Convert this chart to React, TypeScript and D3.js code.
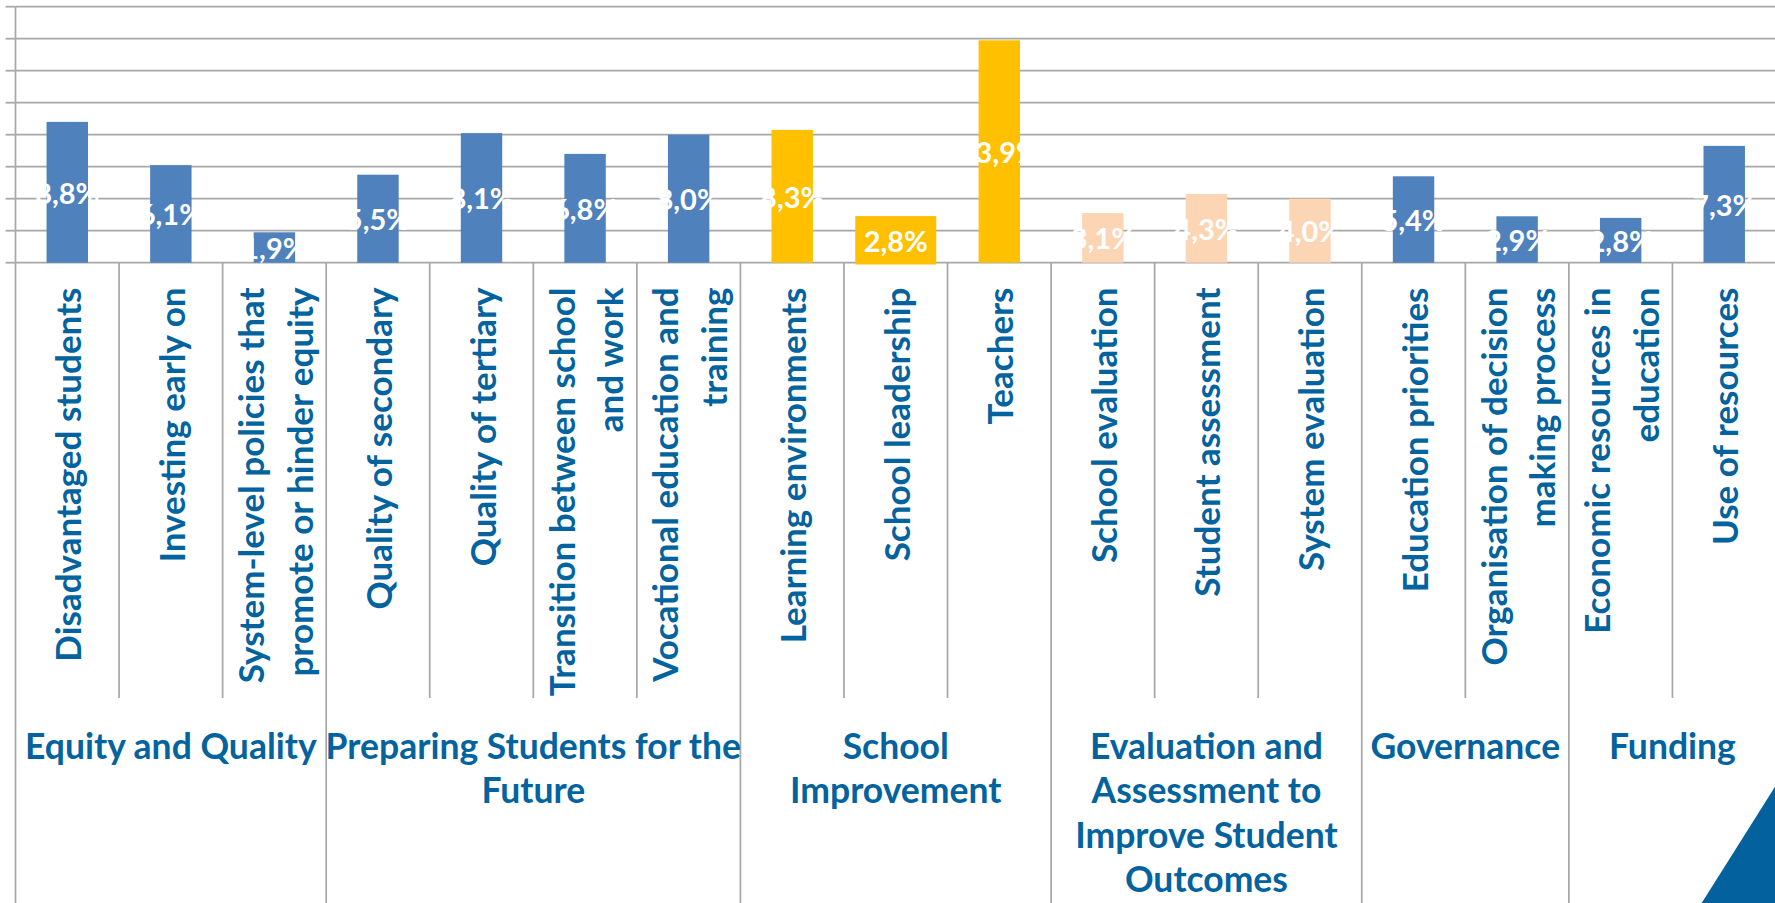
import React from "react";
import * as d3 from "d3";

const categories: string[][] = [
  ["Disadvantaged students"],
  ["Investing early on"],
  ["System-level policies that", "promote or hinder equity"],
  ["Quality of secondary"],
  ["Quality of tertiary"],
  ["Transition between school", "and work"],
  ["Vocational education and", "training"],
  ["Learning environments"],
  ["School leadership"],
  ["Teachers"],
  ["School evaluation"],
  ["Student assessment"],
  ["System evaluation"],
  ["Education priorities"],
  ["Organisation of decision", "making process"],
  ["Economic resources in", "education"],
  ["Use of resources"],
];

const values: number[] = [8.8, 6.1, 1.9, 5.5, 8.1, 6.8, 8.0, 8.3, 2.8, 13.9, 3.1, 4.3, 4.0, 5.4, 2.9, 2.8, 7.3];

const barColorKey: string[] = ["blue", "blue", "blue", "blue", "blue", "blue", "blue", "yellow", "yellow", "yellow", "peach", "peach", "peach", "blue", "blue", "blue", "blue"];

// index of bar whose data label has a filled box
const filledLabel: number[] = [8];

const groups: { lines: string[]; start: number; end: number }[] = [
  { lines: ["Equity and Quality"], start: 0, end: 2 },
  { lines: ["Preparing Students for the", "Future"], start: 3, end: 6 },
  { lines: ["School", "Improvement"], start: 7, end: 9 },
  { lines: ["Evaluation and", "Assessment to", "Improve Student", "Outcomes"], start: 10, end: 12 },
  { lines: ["Governance"], start: 13, end: 14 },
  { lines: ["Funding"], start: 15, end: 16 },
];

const yTicks: number[] = [0, 2, 4, 6, 8, 10, 12, 14, 16];

const COLORS: Record<string, string> = { blue: "#4F81BD", yellow: "#FFC000", peach: "#FCD5B4" };
const TEXT = "#03639F";
const GRID = "#A8A8A8";
const FONT = "Lato, 'Open Sans', sans-serif";

const W = 1775;
const H = 903;
const L = 15.5;
const R = 1776;
const Y0 = 262.7;
const YT = 6.7;

export default function App() {
  const ids = categories.map((_, i) => String(i));
  const x = d3.scaleBand<string>().domain(ids).range([L, R]).padding(0);
  const y = d3.scaleLinear().domain([0, 16]).range([Y0, YT]);
  const bw = x.bandwidth() * 0.4;
  const fmt = (v: number) => d3.format(".1f")(v).replace(".", ",") + "%";

  const groupBoundaries = new Set<number>();
  groups.forEach((g) => {
    groupBoundaries.add(g.start);
    groupBoundaries.add(g.end + 1);
  });

  return (
    <svg width={W} height={H} style={{ position: "absolute", left: 0, top: 0, background: "#fff" }} fontFamily={FONT}>
      <rect x={0} y={0} width={W} height={H} fill="#fff" />
      {/* gridlines and y ticks */}
      {yTicks.map((t) => (
        <g key={"g" + t}>
          <line x1={L} x2={W} y1={y(t)} y2={y(t)} stroke={GRID} strokeWidth={1.75} />
          <line x1={L - 10} x2={L} y1={y(t)} y2={y(t)} stroke={GRID} strokeWidth={1.75} />
        </g>
      ))}
      {/* category dividers */}
      {d3.range(0, categories.length + 1).map((i) => {
        const xx = i < categories.length ? (x(String(i)) as number) : R;
        const long = groupBoundaries.has(i);
        return (
          <line
            key={"d" + i}
            x1={xx}
            x2={xx}
            y1={i === 0 ? YT : Y0}
            y2={long ? H : 698}
            stroke={GRID}
            strokeWidth={1.75}
          />
        );
      })}
      {/* bars */}
      {values.map((v, i) => {
        const cx = (x(String(i)) as number) + x.bandwidth() / 2;
        return (
          <rect
            key={"b" + i}
            x={cx - bw / 2}
            y={y(v)}
            width={bw}
            height={Y0 - y(v)}
            fill={COLORS[barColorKey[i]]}
          />
        );
      })}
      {/* data labels */}
      {values.map((v, i) => {
        const cx = (x(String(i)) as number) + x.bandwidth() / 2;
        const cy = (y(v) + Y0) / 2;
        const filled = filledLabel.includes(i);
        return (
          <g key={"l" + i}>
            {filled && (
              <rect x={cx - 40.5} y={cy - 24.2} width={81} height={48.4} fill={COLORS[barColorKey[i]]} />
            )}
            <text
              x={cx}
              y={cy}
              textAnchor="middle"
              dominantBaseline="central"
              fill="#fff"
              fontWeight={700}
              fontSize={29}
            >
              {fmt(v)}
            </text>
          </g>
        );
      })}
      {/* category labels (rotated) */}
      {categories.map((lines, i) => {
        const cx = (x(String(i)) as number) + x.bandwidth() / 2;
        const n = lines.length;
        return (
          <g key={"c" + i} transform={`translate(${cx},287.5) rotate(-90)`}>
            <text textAnchor="end" fill={TEXT} fontWeight={700} fontSize={35}>
              {lines.map((ln, j) => (
                <tspan key={j} x={0} y={(j - (n - 1) / 2) * 48.5} dominantBaseline="central">
                  {ln}
                </tspan>
              ))}
            </text>
          </g>
        );
      })}
      {/* group labels */}
      {groups.map((g, gi) => {
        const x0 = x(String(g.start)) as number;
        const x1 = (x(String(g.end)) as number) + x.bandwidth();
        const cx = (x0 + x1) / 2;
        return (
          <text key={"gr" + gi} textAnchor="middle" fill={TEXT} fontWeight={700} fontSize={35.5}>
            {g.lines.map((ln, j) => (
              <tspan key={j} x={cx} y={759 + j * 44.3}>
                {ln}
              </tspan>
            ))}
          </text>
        );
      })}
      {/* corner decoration */}
      <polygon points={`${W},786.7 ${W},${H} 1701.7,${H}`} fill="#03629E" />
    </svg>
  );
}
